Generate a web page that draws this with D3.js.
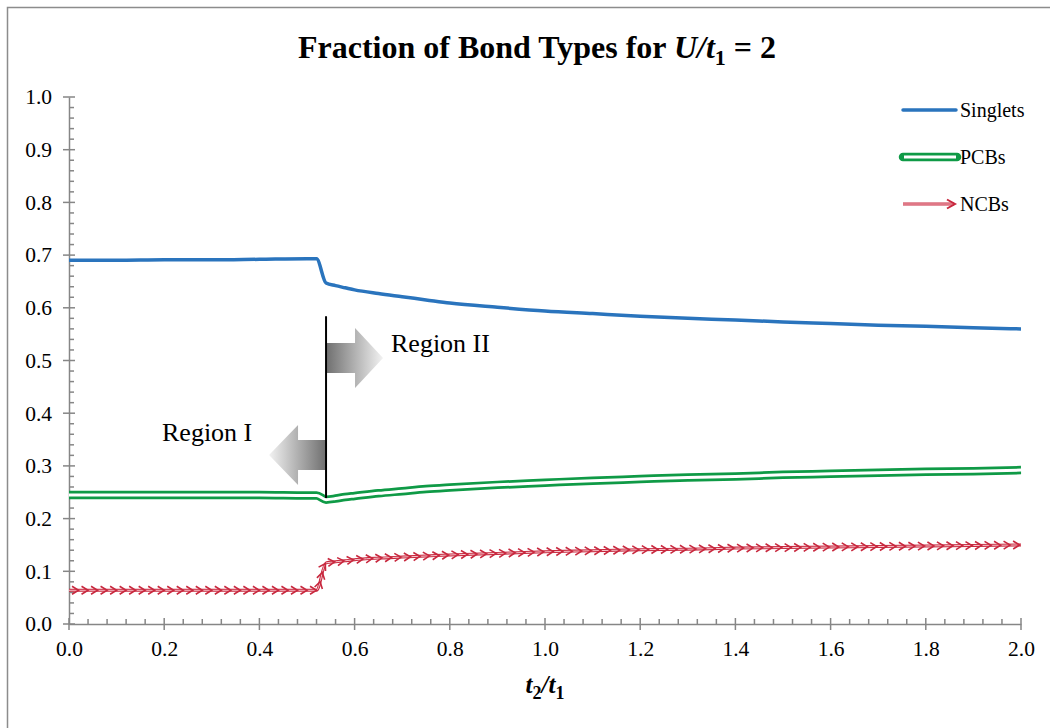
<!DOCTYPE html>
<html>
<head>
<meta charset="utf-8">
<script src="https://cdn.jsdelivr.net/npm/d3@7/dist/d3.min.js"></script>
<style>
  html, body { margin: 0; padding: 0; background: #fff; }
  svg { display: block; }
  svg text { font-family: "Liberation Serif", "Times New Roman", serif; }
</style>
</head>
<body>
<svg id="chart" width="1050" height="728"></svg>
<script>
// Fraction of each bond type versus t2/t1 at U/t1 = 2
const tRatio   = [0, 0.1, 0.2, 0.3, 0.4, 0.5, 0.52, 0.54, 0.56, 0.58, 0.6, 0.65, 0.7, 0.75, 0.8, 0.9, 1.0, 1.1, 1.2, 1.3, 1.4, 1.5, 1.6, 1.7, 1.8, 1.9, 2.0];
const singlets = [0.690, 0.690, 0.691, 0.691, 0.692, 0.693, 0.693, 0.647, 0.642, 0.638, 0.634, 0.627, 0.621, 0.615, 0.609, 0.601, 0.594, 0.589, 0.584, 0.580, 0.577, 0.573, 0.570, 0.567, 0.565, 0.562, 0.560];
const pcbs     = [0.245, 0.245, 0.245, 0.245, 0.245, 0.244, 0.244, 0.236, 0.238, 0.241, 0.243, 0.248, 0.252, 0.256, 0.259, 0.264, 0.268, 0.272, 0.275, 0.278, 0.280, 0.283, 0.285, 0.287, 0.289, 0.290, 0.292];
const ncbs     = [0.064, 0.064, 0.064, 0.064, 0.064, 0.064, 0.064, 0.116, 0.118, 0.120, 0.122, 0.125, 0.127, 0.129, 0.131, 0.134, 0.137, 0.139, 0.141, 0.142, 0.144, 0.145, 0.146, 0.147, 0.148, 0.149, 0.150];

const xTicks = [0, 0.2, 0.4, 0.6, 0.8, 1.0, 1.2, 1.4, 1.6, 1.8, 2.0];
const yTicks = [0, 0.1, 0.2, 0.3, 0.4, 0.5, 0.6, 0.7, 0.8, 0.9, 1.0];
const seriesNames = ["Singlets", "PCBs", "NCBs"];

// boundary between the two regions
const boundaryX = 0.54;
const boundaryY = [0.239, 0.584];

const svg = d3.select("#chart");
const W = 1050, H = 728;
const m = { left: 69, right: 1021, top: 97, bottom: 624 };

const x = d3.scaleLinear().domain([0, 2]).range([m.left, m.right]);
const y = d3.scaleLinear().domain([0, 1]).range([m.bottom, m.top]);

const axisColor = "#868686";
const serif = "'Liberation Serif', 'Times New Roman', serif";

// chart frame
svg.append("rect")
  .attr("x", 7.5).attr("y", 7.5).attr("width", W + 10).attr("height", H + 10)
  .attr("fill", "#fff").attr("stroke", "#8c8c8c").attr("stroke-width", 1.5);

// title
const title = svg.append("text")
  .attr("x", 537).attr("y", 58).attr("text-anchor", "middle")
  .attr("font-size", 32).attr("font-weight", "bold").attr("fill", "#000");
title.append("tspan").text("Fraction of Bond Types for ");
title.append("tspan").attr("font-style", "italic").text("U/t");
title.append("tspan").attr("font-size", 22).attr("dy", 7).text("1");
title.append("tspan").attr("dy", -7).text(" = 2");

// y axis
const yAxis = d3.axisLeft(y).tickValues(yTicks).tickFormat(d3.format(".1f")).tickSize(0).tickPadding(17);
const gy = svg.append("g").attr("transform", `translate(${m.left},0)`).call(yAxis);
gy.attr("font-family", null).attr("font-size", null).style("font-family", serif);
gy.select(".domain").attr("stroke", axisColor).attr("stroke-width", 1.5);
gy.selectAll("text").attr("font-size", 21.5).attr("fill", "#000").style("font-family", serif);
const yMinor = d3.range(0, 1.0001, 0.02);
svg.append("g").selectAll("line").data(yMinor).join("line")
  .attr("x1", d => Math.abs(d * 10 - Math.round(d * 10)) < 1e-6 ? m.left - 6 : m.left)
  .attr("x2", d => Math.abs(d * 10 - Math.round(d * 10)) < 1e-6 ? m.left + 6 : m.left + 5)
  .attr("y1", d => y(d)).attr("y2", d => y(d))
  .attr("stroke", axisColor).attr("stroke-width", 1.5);

// x axis
const xAxis = d3.axisBottom(x).tickValues(xTicks).tickFormat(d3.format(".1f")).tickSize(0).tickPadding(17);
const gx = svg.append("g").attr("transform", `translate(0,${m.bottom})`).call(xAxis);
gx.attr("font-family", null).attr("font-size", null).style("font-family", serif);
gx.select(".domain").attr("stroke", axisColor).attr("stroke-width", 1.5);
gx.selectAll("text").attr("font-size", 21.5).attr("fill", "#000").style("font-family", serif);
const xMinor = d3.range(0, 2.0001, 0.04);
svg.append("g").selectAll("line").data(xMinor).join("line")
  .attr("x1", d => x(d)).attr("x2", d => x(d))
  .attr("y1", d => Math.abs(d * 5 - Math.round(d * 5)) < 1e-6 ? m.bottom + 6 : m.bottom)
  .attr("y2", d => Math.abs(d * 5 - Math.round(d * 5)) < 1e-6 ? m.bottom - 6 : m.bottom - 5)
  .attr("stroke", axisColor).attr("stroke-width", 1.5);

// x axis title
const xt = svg.append("text").attr("x", 545).attr("y", 693).attr("text-anchor", "middle")
  .attr("font-size", 25).attr("font-weight", "bold").attr("font-style", "italic");
xt.append("tspan").text("t");
xt.append("tspan").attr("font-size", 18).attr("font-style", "normal").attr("dy", 6).text("2");
xt.append("tspan").attr("dy", -6).text("/t");
xt.append("tspan").attr("font-size", 18).attr("font-style", "normal").attr("dy", 6).text("1");

// gradient block arrows marking the regions
const defs = svg.append("defs");
const gRight = defs.append("linearGradient").attr("id", "gradRight").attr("x1", "0").attr("x2", "1").attr("y1", "0").attr("y2", "0");
gRight.append("stop").attr("offset", "0").attr("stop-color", "#6f6f6f");
gRight.append("stop").attr("offset", "1").attr("stop-color", "#f2f2f2");
const gLeft = defs.append("linearGradient").attr("id", "gradLeft").attr("x1", "1").attr("x2", "0").attr("y1", "0").attr("y2", "0");
gLeft.append("stop").attr("offset", "0").attr("stop-color", "#6f6f6f");
gLeft.append("stop").attr("offset", "1").attr("stop-color", "#f2f2f2");

const bx = x(boundaryX);
// Region II arrow (pointing right)
svg.append("path")
  .attr("d", `M${bx},343 L${bx + 29},343 L${bx + 29},328 L${bx + 57},358 L${bx + 29},388 L${bx + 29},373 L${bx},373 Z`)
  .attr("fill", "url(#gradRight)");
// Region I arrow (pointing left)
svg.append("path")
  .attr("d", `M${bx},440 L${bx - 28},440 L${bx - 28},425 L${bx - 57},455 L${bx - 28},485 L${bx - 28},470 L${bx},470 Z`)
  .attr("fill", "url(#gradLeft)");

svg.append("text").attr("x", 391).attr("y", 352).attr("font-size", 26).text("Region II");
svg.append("text").attr("x", 162).attr("y", 441).attr("font-size", 26).text("Region I");

// series lines
const line = d3.line().x(d => x(d[0])).y(d => y(d[1])).curve(d3.curveMonotoneX);
const singData = tRatio.map((t, i) => [t, singlets[i]]);
const pcbData  = tRatio.map((t, i) => [t, pcbs[i]]);
const ncbData  = tRatio.map((t, i) => [t, ncbs[i]]);

// PCBs: double green line
svg.append("path").attr("d", line(pcbData)).attr("fill", "none")
  .attr("stroke", "#0f9a46").attr("stroke-width", 8.5).attr("stroke-linejoin", "miter").attr("stroke-linecap", "butt");
svg.append("path").attr("d", line(pcbData)).attr("fill", "none")
  .attr("stroke", "#fff").attr("stroke-width", 3);

// boundary line
svg.append("line").attr("x1", bx).attr("x2", bx)
  .attr("y1", y(boundaryY[1])).attr("y2", y(boundaryY[0]))
  .attr("stroke", "#000").attr("stroke-width", 2);

// Singlets
svg.append("path").attr("d", line(singData)).attr("fill", "none")
  .attr("stroke", "#2a74bd").attr("stroke-width", 3.5);

// NCBs: red double line with chevron arrowheads along its length
const ncbPath = svg.append("path").attr("d", line(ncbData)).attr("fill", "none")
  .attr("stroke", "#c8283e").attr("stroke-width", 3);
svg.append("path").attr("d", line(ncbData)).attr("fill", "none")
  .attr("stroke", "#f7c6cd").attr("stroke-width", 1);
const node = ncbPath.node();
const total = node.getTotalLength();
const step = 9.52;
const heads = svg.append("g");
for (let s = step; s <= total + 0.5; s += step) {
  const p = node.getPointAtLength(Math.min(s, total));
  const q = node.getPointAtLength(Math.max(0, Math.min(s, total) - 1));
  const ang = Math.atan2(p.y - q.y, p.x - q.x) * 180 / Math.PI;
  heads.append("path")
    .attr("d", "M-6.5,-4 L0,0 L-6.5,4")
    .attr("transform", `translate(${p.x},${p.y}) rotate(${ang})`)
    .attr("fill", "none").attr("stroke", "#c8283e").attr("stroke-width", 1.6);
}

// legend
const legendY = [110, 157, 204];
const lg = svg.append("g");
// Singlets
lg.append("line").attr("x1", 903).attr("x2", 956).attr("y1", legendY[0]).attr("y2", legendY[0])
  .attr("stroke", "#2a74bd").attr("stroke-width", 3.5).attr("stroke-linecap", "round");
// PCBs
lg.append("line").attr("x1", 903).attr("x2", 957).attr("y1", legendY[1]).attr("y2", legendY[1])
  .attr("stroke", "#0f9a46").attr("stroke-width", 8.5).attr("stroke-linecap", "round");
lg.append("line").attr("x1", 904).attr("x2", 956).attr("y1", legendY[1]).attr("y2", legendY[1])
  .attr("stroke", "#fff").attr("stroke-width", 3);
// NCBs
lg.append("line").attr("x1", 903).attr("x2", 954).attr("y1", legendY[2]).attr("y2", legendY[2])
  .attr("stroke", "#c8283e").attr("stroke-width", 3);
lg.append("line").attr("x1", 903).attr("x2", 953).attr("y1", legendY[2]).attr("y2", legendY[2])
  .attr("stroke", "#f7c6cd").attr("stroke-width", 1);
lg.append("path").attr("d", `M947,${legendY[2] - 4.5} L955,${legendY[2]} L947,${legendY[2] + 4.5}`)
  .attr("fill", "none").attr("stroke", "#c8283e").attr("stroke-width", 2);
lg.selectAll("text.leg").data(seriesNames).join("text").attr("class", "leg")
  .attr("x", 960).attr("y", (d, i) => legendY[i] + 7)
  .attr("font-size", 20).text(d => d);
</script>
</body>
</html>
